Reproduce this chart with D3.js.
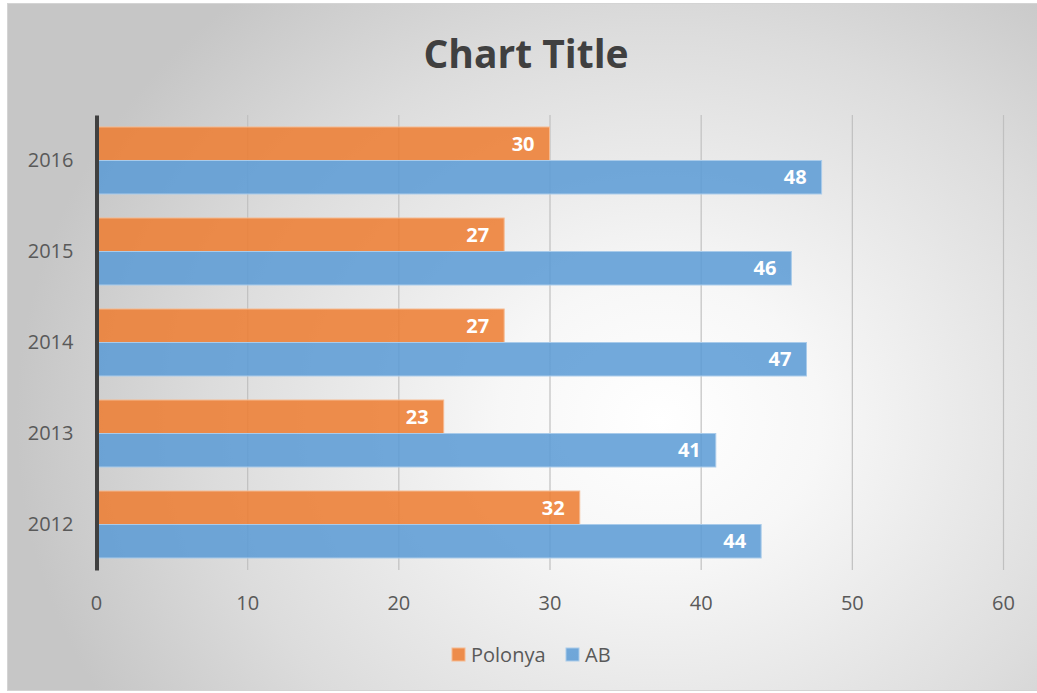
<!DOCTYPE html>
<html>
<head>
<meta charset="utf-8">
<script src="https://cdn.jsdelivr.net/npm/d3@7"></script>
<style>
  html, body { margin: 0; padding: 0; background: #ffffff; }
  svg { display: block; }
  text { font-family: "Open Sans", "Noto Sans", sans-serif; }
</style>
</head>
<body>
<svg id="chart" width="1037" height="693"></svg>
<script>
// Chart data
const years = ["2012", "2013", "2014", "2015", "2016"];
const seriesNames = ["Polonya", "AB"];
const polonyaValues = [32, 23, 27, 27, 30];
const abValues = [44, 41, 47, 46, 48];
const xTicks = [0, 10, 20, 30, 40, 50, 60];
const chartTitle = "Chart Title";

const seriesColors = { "Polonya": "#ED7D31", "AB": "#5B9BD5" };
const seriesStroke = { "Polonya": "#f6b98f", "AB": "#a9cbea" };

const rows = years.map((y, i) => ({ year: y, Polonya: polonyaValues[i], AB: abValues[i] }));

const svg = d3.select("#chart");

// Background: soft radial gray gradient inside a framed chart area
const defs = svg.append("defs");
const grad = defs.append("radialGradient")
  .attr("id", "bgGrad")
  .attr("gradientUnits", "userSpaceOnUse")
  .attr("cx", 660).attr("cy", 420).attr("r", 560)
  .attr("gradientTransform", "translate(660,420) scale(1.15,1) translate(-660,-420)");
grad.append("stop").attr("offset", "0").attr("stop-color", "#ffffff");
grad.append("stop").attr("offset", "0.25").attr("stop-color", "#f7f7f7");
grad.append("stop").attr("offset", "0.7").attr("stop-color", "#dcdcdc");
grad.append("stop").attr("offset", "1").attr("stop-color", "#c6c6c6");

svg.append("rect")
  .attr("x", 7.5).attr("y", 3.5)
  .attr("width", 1040).attr("height", 687)
  .attr("fill", "url(#bgGrad)")
  .attr("stroke", "#d4d4d4").attr("stroke-width", 1);

// Scales
const x = d3.scaleLinear().domain([0, 60]).range([96, 1003]);
const y = d3.scaleBand()
  .domain(years.slice().reverse())
  .range([115, 570])
  .paddingInner(0.264)
  .paddingOuter(0.132);
const ySub = d3.scaleBand().domain(seriesNames).range([0, y.bandwidth()]);

// Title
svg.append("text")
  .attr("x", 526).attr("y", 68)
  .attr("text-anchor", "middle")
  .attr("font-size", 39).attr("font-weight", 700)
  .attr("fill", "#404040")
  .text(chartTitle);

// Vertical gridlines
const grid = svg.append("g")
  .attr("transform", "translate(0,570)")
  .call(d3.axisBottom(x).tickValues(xTicks).tickSize(-455).tickFormat(""));
grid.select(".domain").remove();
grid.selectAll(".tick line").attr("stroke", "#c0c0c0").attr("stroke-width", 1.2);

// Bars
const groups = svg.append("g").selectAll("g")
  .data(rows)
  .join("g")
  .attr("transform", d => `translate(0,${y(d.year)})`);

groups.selectAll("rect")
  .data(d => seriesNames.map(s => ({ key: s, value: d[s] })))
  .join("rect")
  .attr("x", x(0))
  .attr("y", d => ySub(d.key))
  .attr("width", d => x(d.value) - x(0))
  .attr("height", ySub.bandwidth())
  .attr("fill", d => seriesColors[d.key])
  .attr("fill-opacity", 0.86)
  .attr("stroke", d => seriesStroke[d.key])
  .attr("stroke-width", 1);

// Value labels inside bar ends
groups.selectAll("text")
  .data(d => seriesNames.map(s => ({ key: s, value: d[s] })))
  .join("text")
  .attr("x", d => x(d.value) - 15)
  .attr("y", d => ySub(d.key) + ySub.bandwidth() / 2)
  .attr("dy", "0.36em")
  .attr("text-anchor", "end")
  .attr("font-size", 20).attr("font-weight", 700)
  .attr("fill", "#ffffff")
  .text(d => d.value);

// X axis tick labels
const xAxis = svg.append("g")
  .attr("transform", "translate(0,570)")
  .call(d3.axisBottom(x).tickValues(xTicks).tickSize(0).tickPadding(0));
xAxis.select(".domain").remove();
xAxis.selectAll("text")
  .attr("y", 40).attr("dy", 0)
  .attr("font-size", 20)
  .attr("fill", "#595959");

// Y axis with category labels
const yAxis = svg.append("g")
  .attr("transform", "translate(96.5,0)")
  .call(d3.axisLeft(y).tickSize(0).tickPadding(23));
yAxis.select(".domain")
  .attr("stroke", "#404040").attr("stroke-width", 4);
yAxis.selectAll("text")
  .attr("font-size", 20)
  .attr("fill", "#595959");

// Legend
const legend = svg.append("g").attr("transform", "translate(452,648)");
const legendItems = [
  { key: "Polonya", dx: 0 },
  { key: "AB", dx: 114 }
];
const li = legend.selectAll("g").data(legendItems).join("g")
  .attr("transform", d => `translate(${d.dx},0)`);
li.append("rect")
  .attr("width", 13).attr("height", 13)
  .attr("fill", d => seriesColors[d.key])
  .attr("fill-opacity", 0.86)
  .attr("stroke", d => seriesStroke[d.key]);
li.append("text")
  .attr("x", 19).attr("y", 14)
  .attr("font-size", 20)
  .attr("fill", "#595959")
  .text(d => d.key);
</script>
</body>
</html>
